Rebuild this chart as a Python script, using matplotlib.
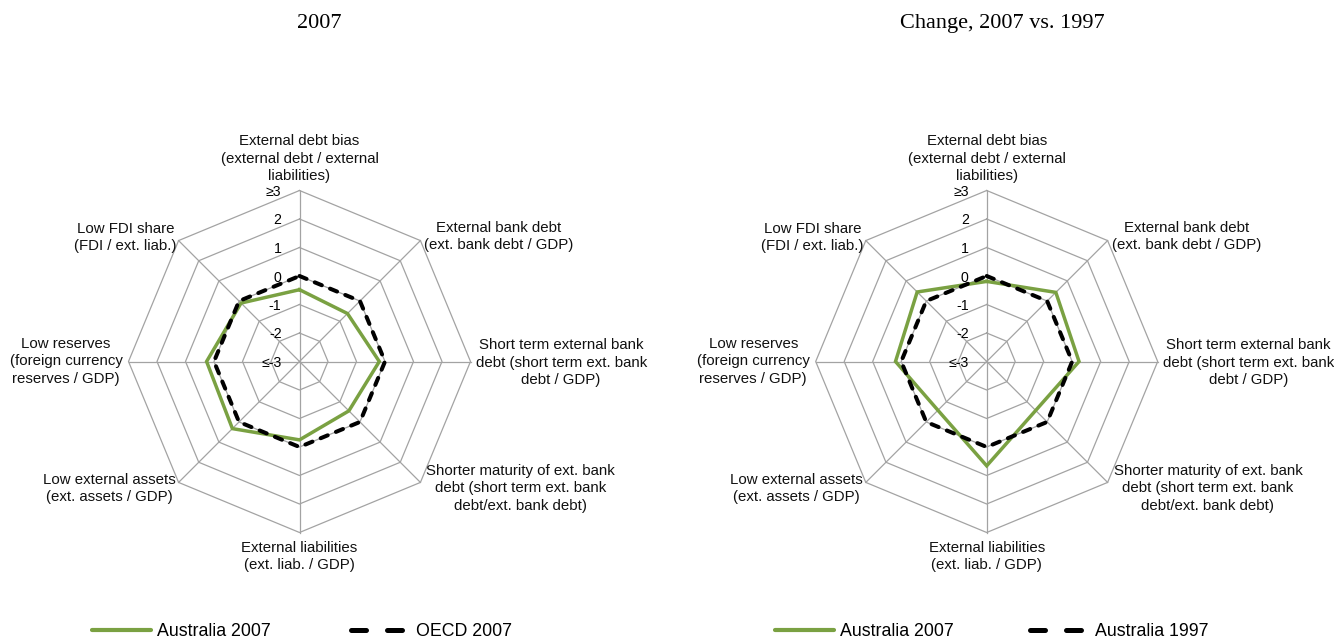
import numpy as np
import matplotlib
matplotlib.use("Agg")
import matplotlib.pyplot as plt
from matplotlib.lines import Line2D

# ---------------- data ----------------
categories = [
    "External debt bias\n(external debt / external\nliabilities)",
    "External bank debt\n(ext. bank debt / GDP)",
    "Short term external bank\ndebt (short term ext. bank\ndebt / GDP)",
    "Shorter maturity of ext. bank\ndebt (short term ext. bank\ndebt/ext. bank debt)",
    "External liabilities\n(ext. liab. / GDP)",
    "Low external assets\n(ext. assets / GDP)",
    "Low reserves\n(foreign currency\nreserves / GDP)",
    "Low FDI share\n(FDI / ext. liab.)",
]
tick_values = [-3, -2, -1, 0, 1, 2, 3]
tick_labels = ["≤-3", "-2", "-1", "0", "1", "2", "≥3"]

# left panel: 2007 level
australia_2007 = [-0.48, -0.62, -0.20, -0.55, -0.25, 0.33, 0.26, -0.10]
oecd_2007 = [0, 0, 0, 0, 0, 0, 0, 0]
# right panel: change 2007 vs 1997
australia_2007_chg = [-0.19, 0.43, 0.24, -0.57, 0.66, -0.58, 0.20, 0.45]
australia_1997 = [0, 0, 0, 0, 0, 0, 0, 0]

titles = ["2007", "Change, 2007 vs. 1997"]
legend_left = ["Australia 2007", "OECD 2007"]
legend_right = ["Australia 2007", "Australia 1997"]

# ---------------- style ----------------
GREEN = "#7AA142"
GRID = "#A3A3A3"
SANS = ["Liberation Sans", "Arial", "DejaVu Sans"]
SERIF = ["Liberation Serif", "DejaVu Serif"]
W, H = 1334, 639

fig = plt.figure(figsize=(W / 100, H / 100), dpi=100)

R_PX = 171
# label offsets in pixels (dx, dy) and alignment per category
label_layout = [
    (0, 32, "center", "center"),
    (4, 4, "left", "center"),
    (5, -1, "left", "center"),
    (6, -6, "left", "center"),
    (0, -24, "center", "center"),
    (-3, -6, "right", "center"),
    (-6, 0, "right", "center"),
    (-2, 3, "right", "center"),
]


def radar(cx, cy, green_vals, black_vals):
    ax = fig.add_axes([(cx - R_PX) / W, (H - cy - R_PX) / H, 2 * R_PX / W, 2 * R_PX / H],
                      projection="polar")
    ax.set_theta_zero_location("N")
    ax.set_theta_direction(-1)
    ax.set_ylim(tick_values[0], tick_values[-1])
    ax.grid(False)
    ax.spines["polar"].set_visible(False)
    ax.set_xticks([])
    ax.set_yticks([])
    ax.patch.set_visible(False)

    n = len(categories)
    theta = np.arange(n) * 2 * np.pi / n
    thc = np.append(theta, theta[0])

    for r in tick_values[1:]:
        ax.plot(thc, [r] * (n + 1), color=GRID, lw=0.9, zorder=1, clip_on=False)
    for t in theta:
        ax.plot([t, t], [tick_values[0], tick_values[-1]], color=GRID, lw=0.9,
                zorder=1, clip_on=False)

    for v, lbl in zip(tick_values, tick_labels):
        ax.annotate(lbl, xy=(0, v), xytext=(-18, -1.5), textcoords="offset pixels",
                    ha="right", va="center", fontsize=10.2, family=SANS, color="black")

    g = list(green_vals) + [green_vals[0]]
    b = list(black_vals) + [black_vals[0]]
    ax.plot(thc, g, color=GREEN, lw=2.5, zorder=3, solid_joinstyle="miter",
            clip_on=False)
    ax.plot(thc, b, color="black", lw=2.9, zorder=4, dashes=(1.9, 2.2),
            dash_capstyle="round", clip_on=False)

    for t, cat, (dx, dy, ha, va) in zip(theta, categories, label_layout):
        ax.annotate(cat, xy=(t, tick_values[-1]), xytext=(dx, dy),
                    textcoords="offset pixels", ha=ha, va=va, multialignment="center",
                    fontsize=10.8, family=SANS, linespacing=1.3, color="#111111")
    return ax


radar(299.5, 361.5, australia_2007, oecd_2007)
radar(986.7, 361.5, australia_2007_chg, australia_1997)

fig.text(319 / W, 1 - 23.5 / H, titles[0], ha="center", va="center",
         fontsize=16, family=SERIF)
fig.text(1002.5 / W, 1 - 23.5 / H, titles[1], ha="center", va="center",
         fontsize=16, family=SERIF)


def legend_entry(x_px, label, solid):
    if solid:
        h = Line2D([], [], color=GREEN, lw=3.0, solid_capstyle="round")
    else:
        h = Line2D([], [], color="black", lw=3.6, dashes=(3.0, 4.2),
                   dash_capstyle="round")
    leg = fig.legend([h], [label], loc="center left",
                     bbox_to_anchor=(x_px / W, (H - 632) / H),
                     frameon=False, handlelength=3.3, handletextpad=0.35,
                     borderpad=0, borderaxespad=0,
                     prop={"family": SANS, "size": 12.8})
    return leg


legend_entry(92, legend_left[0], True)
legend_entry(351, legend_left[1], False)
legend_entry(775, legend_right[0], True)
legend_entry(1030, legend_right[1], False)

fig.savefig("out.png", dpi=100)
